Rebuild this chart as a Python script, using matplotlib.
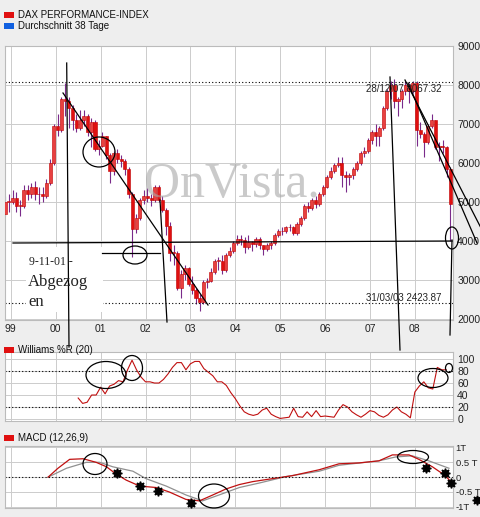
import numpy as np
import matplotlib
matplotlib.use("Agg")
import matplotlib.pyplot as plt
from matplotlib.patches import Ellipse, Rectangle

plt.rcParams['font.family'] = ['Liberation Sans', 'DejaVu Sans']

# ---------------- data ----------------
start_year, start_month = 1998, 10
first_open = 4900
closes = [4700,5000,5000, 5100,4900,4900,5300,5200,5400,5200,5200,5150,5500,6000,6950,
          6850,7650,7600,7400,7100,6900,7100,7200,6800,7050,6350,6450,
          6700,6200,5800,6250,6100,6050,5850,5200,4300,4600,5050,5150,
          5100,5050,5400,5050,4800,4400,3700,3700,2800,3150,3300,2900,
          2750,2550,2450,2950,2980,3200,3500,3500,3250,3650,3750,3950,
          4050,4020,3850,3980,3920,4050,3900,3800,3900,3950,4150,4250,
          4250,4350,4350,4200,4450,4600,4900,4850,5050,4950,5200,5400,
          5650,5800,5950,6000,5700,5650,5700,5850,6000,6250,6300,6600,
          6800,6700,6900,7400,7850,8000,7600,7650,7850,8000,7850,8050,
          6850,6750,6550,6950,7100,6400,6450,6400,5850,4950]
highs = [5100,5150,5200, 5300,5250,5050,5450,5450,5500,5550,5400,5400,5600,6100,7000,
         7250,7700,8050,7700,7500,7250,7350,7350,7250,7150,7100,6600,
         6800,6700,6250,6300,6350,6200,6100,5900,5250,4700,5100,5300,
         5350,5200,5450,5450,5150,4850,4500,3900,3750,3250,3400,3350,
         3100,2800,2650,3000,3050,3300,3550,3600,3650,3700,3850,4000,
         4150,4150,4100,4150,4000,4100,4100,3900,3950,4000,4200,4300,
         4350,4400,4450,4400,4500,4650,4950,5000,5100,5150,5250,5450,
         5700,5900,6000,6150,6150,5800,5750,5900,6050,6300,6400,6650,
         6850,7000,6950,7450,7900,8100,8150,7700,7900,8100,8050,8100,
         8100,7050,6800,7000,7250,7100,6550,6600,6450,5900]
lows = [4450,4650,4750, 4950,4750,4650,4850,5050,5100,5050,4950,5000,5100,5450,5950,
        6700,6800,7200,6900,6850,6800,6850,6950,6700,6400,6300,6200,
        6400,6100,5500,5700,6000,5900,5700,5100,3600,4200,4550,4950,
        5000,4900,5000,5000,4750,4150,3500,3400,2750,2550,3000,2850,
        2650,2400,2200,2400,2800,2950,3150,3250,3150,3200,3600,3700,
        3900,3900,3700,3800,3750,3850,3800,3650,3750,3800,3900,4100,
        4150,4200,4250,4150,4150,4400,4550,4750,4800,4850,4900,5150,
        5350,5600,5750,5900,5400,5250,5450,5600,5800,5950,6150,6250,
        6500,6450,6450,6850,7350,7650,7400,7200,7400,7750,7550,7800,
        6450,6650,6150,6500,6900,6350,6050,6250,5650,4000]

wr_start, wr_step = 2000.5, 0.1
williams = [35,26,28,40,40,53,42,55,58,64,62,82,98,82,70,62,62,60,60,66,75,86,94,94,82,92,96,96,
            84,78,72,62,62,56,44,34,22,12,8,6,8,15,18,8,4,1,2,3,18,4,3,12,4,14,4,5,4,3,15,24,20,
            12,7,3,8,14,12,6,3,7,15,20,12,8,2,45,55,62,52,50,86,82,82]

macd_x = [1999.83,2000.05,2000.31,2000.61,2000.90,2001.13,2001.35,2001.57,2001.87,2002.24,2002.53,
          2002.90,2003.20,2003.50,2003.79,2004.09,2004.39,2004.83,2005.27,2005.87,2006.31,2006.76,
          2007.20,2007.50,2007.87,2008.09,2008.39,2008.68,2008.83]
macd = [0,0.3,0.6,0.62,0.5,0.35,0.1,-0.1,-0.3,-0.35,-0.5,-0.75,-0.8,-0.6,-0.4,-0.25,-0.15,-0.05,
        0.05,0.25,0.45,0.48,0.55,0.75,0.75,0.6,0.35,0.05,-0.2]
signal_x = [1999.83,2000.24,2000.68,2000.98,2001.27,2001.72,2002.01,2002.46,2002.90,2003.27,2003.64,
            2004.09,2004.53,2005.13,2005.87,2006.31,2007.20,2007.57,2007.94,2008.31,2008.76]
signal = [0,0.3,0.5,0.5,0.35,0.2,-0.05,-0.3,-0.6,-0.8,-0.6,-0.35,-0.2,0.02,0.2,0.4,0.55,0.68,0.72,0.55,0.3]

year_labels = ['99','00','01','02','03','04','05','06','07','08']
price_ticks = [2000,3000,4000,5000,6000,7000,8000,9000]
wr_ticks = [0,20,40,60,80,100]
macd_ticks = [-1,-0.5,0,0.5,1]
macd_labels = ['-1T','-0.5 T','0','0.5 T','1T']
hi_label, lo_label = '28/12/07 8067.32', '31/03/03 2423.87'
hi_val, lo_val = 8067.32, 2423.87

# ---------------- figure ----------------
W, H = 481, 517
fig = plt.figure(figsize=(W/100, H/100), dpi=100, facecolor='#eeeeee')

def px_axes(x0, y0, x1, y1):
    return fig.add_axes([x0/W, 1-y1/H, (x1-x0)/W, (y1-y0)/H])

xlim = (1998.87, 2008.85)
years = np.arange(1999, 2009)
grid_c = '#cccccc'

def style(ax, yt, ylab, size=7.5):
    ax.set_facecolor('white')
    ax.set_xlim(*xlim)
    ax.set_xticks(years)
    ax.set_yticks(yt)
    ax.set_yticklabels(ylab)
    ax.yaxis.tick_right()
    ax.tick_params(length=0, labelsize=size, pad=3, colors='#222222')
    ax.grid(True, color=grid_c, lw=0.7)
    ax.set_axisbelow(True)
    for s in ax.spines.values():
        s.set_color('#bbbbbb')

# main
ax = px_axes(5, 46, 453, 320)
style(ax, price_ticks, [str(t) for t in price_ticks])
ax.set_ylim(1980, 9000)
ax.set_xticklabels(year_labels)
ax.tick_params(axis='x', labelsize=7.5, pad=3)
opens = [first_open] + closes[:-1]
for i, (o, c, h, l) in enumerate(zip(opens, closes, highs, lows)):
    m = start_month - 1 + i
    x = start_year + m / 12 + 1 / 24
    ax.vlines(x, l, h, color='#7a2a8a', lw=0.8, zorder=2)
    lo, hi = min(o, c), max(o, c)
    fill = '#e01010' if c < o else '#e84040'
    ax.add_patch(Rectangle((x - 0.034, lo), 0.068, max(hi - lo, 20),
                           facecolor=fill, edgecolor='#c00000', lw=0.4, zorder=3))
ax.axhline(hi_val, color='black', ls=(0, (1, 2)), lw=0.8)
ax.axhline(lo_val, color='black', ls=(0, (1, 2)), lw=0.8)

# williams
aw = px_axes(5, 352, 453, 421)
style(aw, wr_ticks, [str(t) for t in wr_ticks])
aw.set_ylim(-3.3, 111.7)
aw.set_xticklabels([])
wx = [wr_start + wr_step * k for k in range(len(williams))]
aw.plot(wx, williams, color='#c01010', lw=0.8)
for v in (20, 80):
    aw.axhline(v, color='black', ls=(0, (1, 2)), lw=0.8)

# macd
am = px_axes(5, 446, 453, 508)
style(am, macd_ticks, macd_labels, size=6.8)
am.set_ylim(-1.04, 1.05)
am.set_xticklabels([])
am.tick_params(axis='y', pad=2)
am.plot(signal_x, signal, color='#909090', lw=0.9)
am.plot(macd_x, macd, color='#c01010', lw=0.9)
am.axhline(0, color='black', ls=(0, (1, 2)), lw=0.8)

# overlay annotations (pixel space)
ov = fig.add_axes([0, 0, 1, 1])
ov.set_xlim(0, W); ov.set_ylim(H, 0); ov.axis('off'); ov.patch.set_alpha(0)

ov.text(232, 185, 'OnVista.', family='Liberation Serif', fontsize=36, color='#a8a8a8',
        alpha=0.6, ha='center', va='center')
ov.add_patch(Rectangle((26, 247), 77, 65, facecolor='white', edgecolor='none'))
ov.text(29, 262, '9-11-01 -', family='Liberation Serif', fontsize=8.5, va='center', color='#222222')
ov.text(28, 282, 'Abgezog', family='Liberation Serif', fontsize=12, va='center', color='#222222')
ov.text(28, 302, 'en', family='Liberation Serif', fontsize=12, va='center', color='#222222')
ov.text(366, 89, hi_label, fontsize=7, va='center', color='#222222')
ov.text(366, 298, lo_label, fontsize=7, va='center', color='#222222')

lines = [((66.7, 63), (69, 347)), ((63, 93), (208, 305)), ((13, 243), (452, 241)),
         ((102, 253), (160, 253)), ((160, 200), (167, 322)), ((390, 77), (400, 350)),
         ((405, 80), (481, 228)), ((408, 83), (477, 243)), ((452, 240), (450, 335))]
for (x0, y0), (x1, y1) in lines:
    ov.plot([x0, x1], [y0, y1], color='black', lw=0.9)

ells = [(99, 152, 32, 30), (135, 255, 24, 18), (452, 238, 13, 22), (106, 375, 40, 27),
        (132, 368, 21, 25), (433, 378, 30, 19), (449, 368, 7, 9), (95, 464, 24, 21),
        (214, 496, 31, 24), (413, 457, 31, 13)]
for cx, cy, w, h in ells:
    ov.add_patch(Ellipse((cx, cy), w, h, fill=False, edgecolor='black', lw=0.9))

stars = [(117, 473), (140, 486), (158, 491), (191, 503), (426, 468), (445, 473), (451, 483), (477, 500)]
ov.plot([s[0] for s in stars], [s[1] for s in stars], ls='none', marker=(8, 1, 0),
        ms=7, color='black')

# legend / panel titles
for y, col, txt in [(15, '#e01010', 'DAX PERFORMANCE-INDEX'), (26, '#1060e0', 'Durchschnitt 38 Tage'),
                    (350, '#e01010', 'Williams %R (20)'), (438, '#e01010', 'MACD (12,26,9)')]:
    ov.add_patch(Rectangle((4, y - 3), 10, 6, facecolor=col, edgecolor='none'))
    ov.text(18, y, txt, fontsize=7, va='center', color='#111111')

fig.savefig('out.png', dpi=100, facecolor=fig.get_facecolor())
